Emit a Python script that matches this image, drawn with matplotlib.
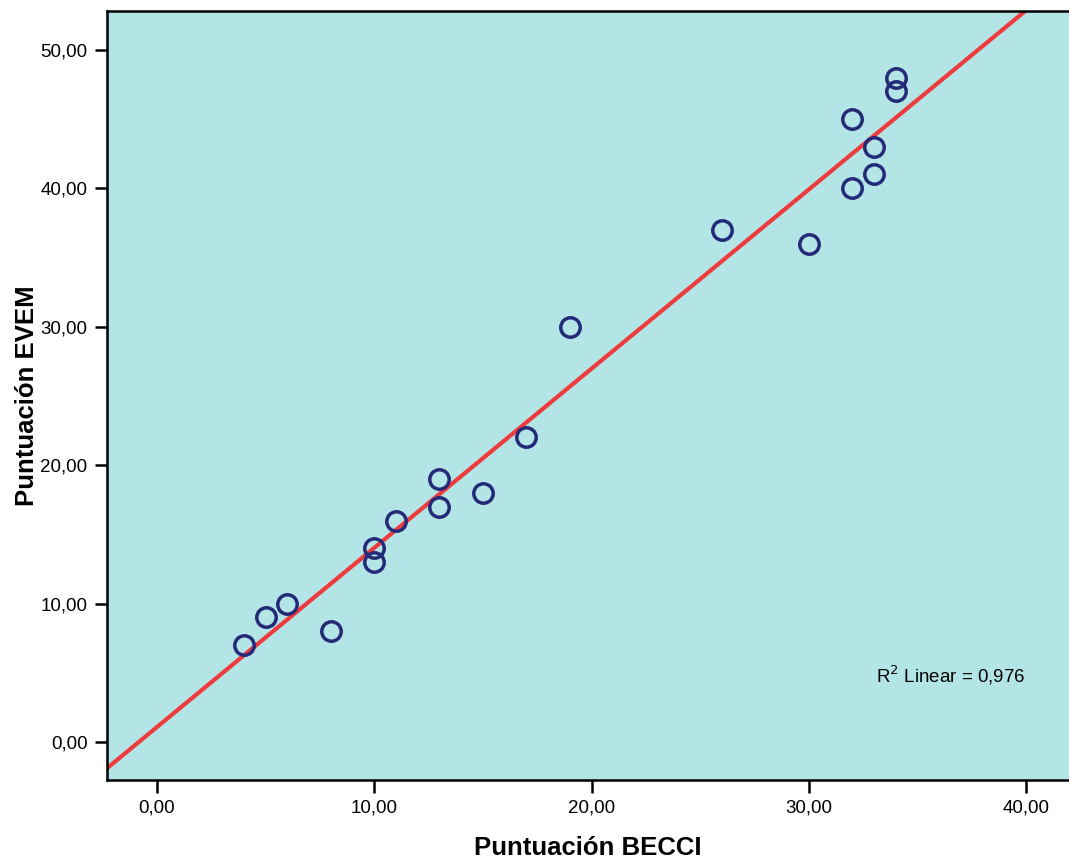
import numpy as np
from matplotlib import pyplot as plt

plt.rcParams['font.family'] = ['Liberation Sans', 'DejaVu Sans']

# Puntuación BECCI vs Puntuación EVEM
becci = [4, 5, 6, 8, 10, 10, 11, 13, 13, 15, 17, 19, 26, 30, 32, 32, 33, 33, 34, 34]
evem = [7, 9, 10, 8, 14, 13, 16, 19, 17, 18, 22, 30, 37, 36, 45, 40, 43, 41, 48, 47]
xticks = [0, 10, 20, 30, 40]
yticks = [0, 10, 20, 30, 40, 50]

x = np.array(becci, dtype=float)
y = np.array(evem, dtype=float)
slope, intercept = np.polyfit(x, y, 1)
r2 = np.corrcoef(x, y)[0, 1] ** 2

fig = plt.figure(figsize=(10.69, 8.6), dpi=100)
ax = fig.add_axes([0.1, 0.093, 0.9, 0.894])
ax.set_facecolor('#b3e5e6')

xlim = (-2.3, 41.97)
ylim = (-2.75, 52.8)
xl = np.array(xlim)
ax.plot(xl, intercept + slope * xl, color='#ee3b3e', lw=3, zorder=2)
ax.plot(x, y, 'o', ms=14, mfc='none', mec='#252a78', mew=2.5, zorder=3)

ax.set_xlim(xlim)
ax.set_ylim(ylim)
ax.set_xticks(xticks)
ax.set_yticks(yticks)
ax.set_xticklabels(['{:.2f}'.format(v).replace('.', ',') for v in xticks])
ax.set_yticklabels(['{:.2f}'.format(v).replace('.', ',') for v in yticks])
ax.tick_params(length=9, width=1.8, labelsize=13.5, pad=5)
for s in ax.spines.values():
    s.set_linewidth(1.8)
ax.spines['right'].set_visible(False)

ax.set_xlabel('Puntuación BECCI', fontsize=18.5, fontweight='bold', labelpad=14)
ax.set_ylabel('Puntuación EVEM', fontsize=18.5, fontweight='bold', labelpad=1)

ax.text(33.1, 4.8, 'R$^2$ Linear = {:.3f}'.format(r2).replace('.', ','),
        fontsize=13.5, va='center')

plt.savefig('out.png', dpi=100)
